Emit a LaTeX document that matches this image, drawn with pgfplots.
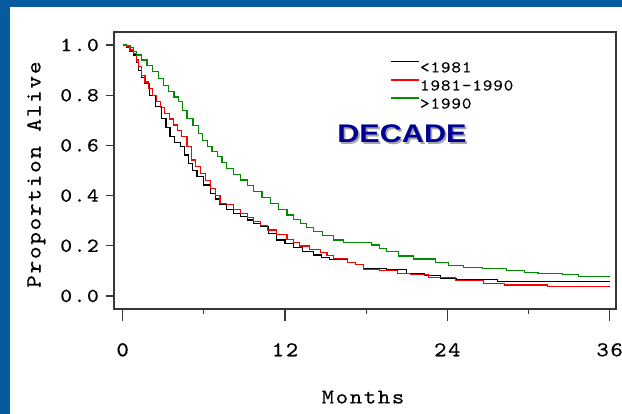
\documentclass[border=0pt]{standalone}
\usepackage{fontspec}
\usepackage{graphicx}
\usepackage{pgfplots}
\usepackage{pgfplotstable}
\pgfplotsset{compat=1.18}

\newfontfamily\cour{lmmono10-regular}[Extension=.otf, FakeStretch=1.12, LetterSpace=8, FakeBold=0.4]
\newfontfamily\courleg{lmmono10-regular}[Extension=.otf, FakeStretch=1.12, LetterSpace=5, FakeBold=0.3]
\newfontfamily\heavysans{Liberation Sans}

\definecolor{slideblue}{RGB}{6,90,158}
\definecolor{kmred}{RGB}{255,0,0}
\definecolor{kmgreen}{RGB}{0,140,0}
\definecolor{titleblue}{RGB}{0,0,150}
\definecolor{framegray}{RGB}{55,55,55}

% Kaplan-Meier estimates, proportion alive by month
\pgfplotstableread{
m S
0 1.000
0.3 0.990
0.55 0.975
0.8 0.960
1.0 0.930
1.16 0.900
1.4 0.872
1.65 0.847
2.0 0.800
2.4 0.754
2.9 0.708
3.2 0.672
3.5 0.635
3.85 0.612
4.25 0.595
4.55 0.562
4.85 0.528
5.15 0.500
5.5 0.475
6.0 0.442
6.5 0.409
6.85 0.386
7.2 0.363
7.7 0.346
8.2 0.329
8.7 0.316
9.2 0.303
9.7 0.290
10.2 0.276
10.8 0.250
11.4 0.223
12.0 0.208
12.6 0.194
13.3 0.178
14.1 0.163
14.7 0.154
15.3 0.146
16.6 0.133
17.2 0.124
17.8 0.110
19.5 0.104
21.0 0.090
22.3 0.080
23.5 0.068
24.7 0.064
27.7 0.058
36.0 0.058
}\before

\pgfplotstableread{
m S
0 1.000
0.3 0.993
0.55 0.980
0.8 0.967
1.0 0.940
1.16 0.914
1.4 0.880
1.65 0.853
1.9 0.827
2.2 0.800
2.5 0.774
2.8 0.750
3.1 0.728
3.45 0.705
3.75 0.681
4.05 0.658
4.35 0.635
4.75 0.595
5.1 0.542
5.4 0.515
5.75 0.489
6.1 0.459
6.5 0.429
6.85 0.400
7.2 0.370
7.7 0.363
8.2 0.345
8.7 0.329
9.2 0.312
9.7 0.296
10.2 0.280
10.7 0.263
11.4 0.245
12.15 0.226
12.6 0.212
13.1 0.199
13.8 0.186
14.6 0.173
15.1 0.160
15.6 0.150
16.6 0.133
17.2 0.124
17.8 0.106
19.0 0.100
20.3 0.090
21.3 0.084
22.6 0.074
24.6 0.061
26.7 0.051
28.2 0.044
31.4 0.038
36.0 0.038
}\middecade

\pgfplotstableread{
m S
0 1.000
0.3 0.997
0.55 0.990
0.8 0.975
1.05 0.960
1.4 0.940
1.8 0.920
2.2 0.895
2.65 0.867
3.0 0.840
3.4 0.814
3.8 0.793
4.15 0.774
4.45 0.740
4.75 0.708
5.2 0.678
5.6 0.648
5.9 0.620
6.25 0.595
6.6 0.575
7.0 0.555
7.35 0.532
7.7 0.509
8.2 0.485
8.7 0.462
9.2 0.440
9.7 0.416
10.3 0.393
10.9 0.369
11.5 0.346
12.15 0.323
12.6 0.306
13.15 0.290
13.6 0.272
14.1 0.256
14.8 0.240
15.6 0.223
16.3 0.214
18.4 0.203
19.0 0.190
19.5 0.176
20.4 0.159
21.5 0.147
23.1 0.133
24.1 0.122
25.2 0.114
26.6 0.109
28.4 0.101
29.7 0.093
30.7 0.088
32.5 0.084
33.7 0.077
36.0 0.077
}\after

\pgfplotsset{
  kmframe/.style={
    at={(114pt,105pt)}, anchor=south west,
    scale only axis, width=502pt, height=277pt,
    xmin=-0.64, xmax=36.47,
    /pgf/number format/assume math mode=true,
  },
}

\begin{document}
\begin{tikzpicture}
\path[use as bounding box] (0,0) rectangle (622pt,414pt);
\fill[slideblue] (0,0) rectangle (622pt,414pt);
\fill[white] (10pt,0) rectangle (622pt,407pt);

% curves, y axis and frame
\begin{axis}[kmframe,
  ymin=-0.052, ymax=1.052,
  xtick=\empty,
  ytick={0,0.2,0.4,0.6,0.8,1.0},
  ytick pos=left,
  tick align=outside,
  major tick length=8pt,
  tick style={framegray, line width=1.2pt},
  axis line style={framegray, line width=1.2pt},
  yticklabel style={font={\fontsize{20}{20}\selectfont\cour}, inner sep=0pt, xshift=-7pt,
    /pgf/number format/.cd, fixed, fixed zerofill, precision=1},
  ylabel={Proportion Alive},
  every axis y label/.style={at={(axis description cs:-0.155,0.485)}, rotate=90, anchor=center,
    font={\fontsize{21.5}{21.5}\selectfont\cour}},
  legend cell align=left,
  legend image code/.code={\draw[#1, line width=1.2pt] (0pt,6.5pt) -- (28pt,6.5pt);},
  legend style={at={(axis description cs:0.551,0.895)}, anchor=north west,
    draw=none, fill=none, inner sep=0pt, row sep=4pt,
    font={\fontsize{16.4}{16.4}\selectfont\courleg},
    nodes={inner sep=0pt, text height=11pt, text depth=3pt}},
  const plot,
]
\addplot[black, line width=1.2pt] table[x=m, y=S] {\before};
\addlegendentry{<1981}
\addplot[kmred, line width=1.2pt] table[x=m, y=S] {\middecade};
\addlegendentry{1981-1990}
\addplot[kmgreen, line width=1.2pt] table[x=m, y=S] {\after};
\addlegendentry{>1990}
\end{axis}

% month axis ticks and labels
\begin{axis}[kmframe,
  ymin=0, ymax=1,
  ytick=\empty,
  xtick={0,12,24,36},
  minor xtick={6,18,30},
  xtick pos=left,
  tick align=outside,
  major tick length=12pt,
  minor tick length=5pt,
  tick style={framegray, line width=1.2pt},
  axis line style={draw=none},
  xticklabel style={font={\fontsize{21}{21}\selectfont\cour}, inner sep=0pt, yshift=-22pt},
  xlabel={Months},
  every axis x label/.style={at={(axis description cs:0.496,-0.318)}, anchor=center,
    font={\fontsize{21}{21}\selectfont\cour}},
]
\end{axis}

\node[text=black!35, inner sep=0pt] at (403.8pt,278.3pt)
  {\scalebox{1.2}[1]{\fontsize{25.5}{25.5}\selectfont\heavysans\bfseries DECADE}};
\node[text=titleblue, inner sep=0pt] at (402pt,280pt)
  {\scalebox{1.2}[1]{\fontsize{25.5}{25.5}\selectfont\heavysans\bfseries DECADE}};
\end{tikzpicture}
\end{document}
